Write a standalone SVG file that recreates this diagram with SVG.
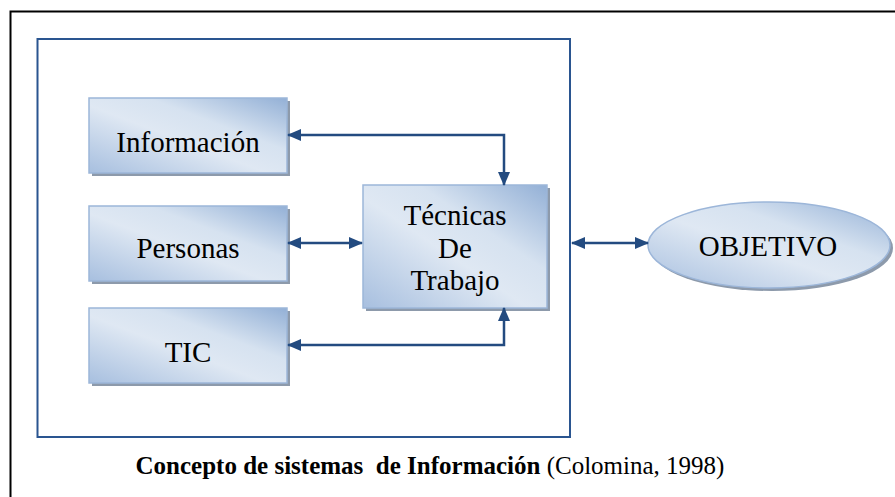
<svg xmlns="http://www.w3.org/2000/svg" width="895" height="497" viewBox="0 0 895 497">
<defs>
<linearGradient id="g" x1="0" y1="1" x2="1" y2="0">
<stop offset="0" stop-color="#a7bfdf"/>
<stop offset="0.45" stop-color="#dfe8f3"/>
<stop offset="0.65" stop-color="#d6e2f0"/>
<stop offset="1" stop-color="#93b0d6"/>
</linearGradient>
<marker id="ah" viewBox="0 0 14 12" refX="13" refY="6" markerWidth="14" markerHeight="12" markerUnits="userSpaceOnUse" orient="auto-start-reverse">
<path d="M0,0 L14,6 L0,12 Z" fill="#234b80"/>
</marker>
</defs>
<style>
.box{fill:url(#g);stroke:#9cb6d9;stroke-width:1.5}
.sh{fill:#8d9aab}
.t{font-size:29px;fill:#000;text-anchor:middle}
.c{stroke:#234b80;stroke-width:2.5;fill:none}
</style>
<rect x="0" y="0" width="895" height="497" fill="#fff"/>
<rect x="10.5" y="11.5" width="900" height="500" fill="none" stroke="#000" stroke-width="2"/>
<rect x="37.5" y="39" width="532.5" height="398" fill="none" stroke="#2a5590" stroke-width="2"/>

<g font-family="Liberation Serif, Times New Roman, serif">
<g id="informacion">
<rect class="sh" x="92" y="101" width="198" height="75"/>
<rect class="box" x="89" y="98" width="198" height="75"/>
<text class="t" x="188" y="152">Información</text>
</g>
<g id="personas">
<rect class="sh" x="92" y="209" width="198" height="75"/>
<rect class="box" x="89" y="206" width="198" height="75"/>
<text class="t" x="188" y="258">Personas</text>
</g>
<g id="tic">
<rect class="sh" x="92" y="311" width="198" height="75"/>
<rect class="box" x="89" y="308" width="198" height="75"/>
<text class="t" x="188" y="362">TIC</text>
</g>
<g id="tecnicas">
<rect class="sh" x="366" y="188" width="184" height="123"/>
<rect class="box" x="363" y="185" width="184" height="123"/>
<text class="t" x="455" y="225">Técnicas</text>
<text class="t" x="455" y="258">De</text>
<text class="t" x="455" y="290">Trabajo</text>
</g>
<g id="objetivo">
<ellipse cx="772" cy="248" rx="121" ry="43" fill="#8d9aab"/>
<ellipse class="box" cx="769" cy="245" rx="121" ry="43"/>
<text class="t" x="768" y="256">OBJETIVO</text>
</g>

<g id="connectors">
<path class="c" d="M504,185 V135 H288" marker-start="url(#ah)" marker-end="url(#ah)"/>
<path class="c" d="M288,243 H362" marker-start="url(#ah)" marker-end="url(#ah)"/>
<path class="c" d="M504,308 V345 H288" marker-start="url(#ah)" marker-end="url(#ah)"/>
<path class="c" d="M572,243 H648" marker-start="url(#ah)" marker-end="url(#ah)"/>
</g>

<text x="430" y="474" font-size="25" text-anchor="middle" xml:space="preserve"><tspan font-weight="bold">Concepto de sistemas  de Información</tspan> (Colomina, 1998)</text>
</g>
</svg>
